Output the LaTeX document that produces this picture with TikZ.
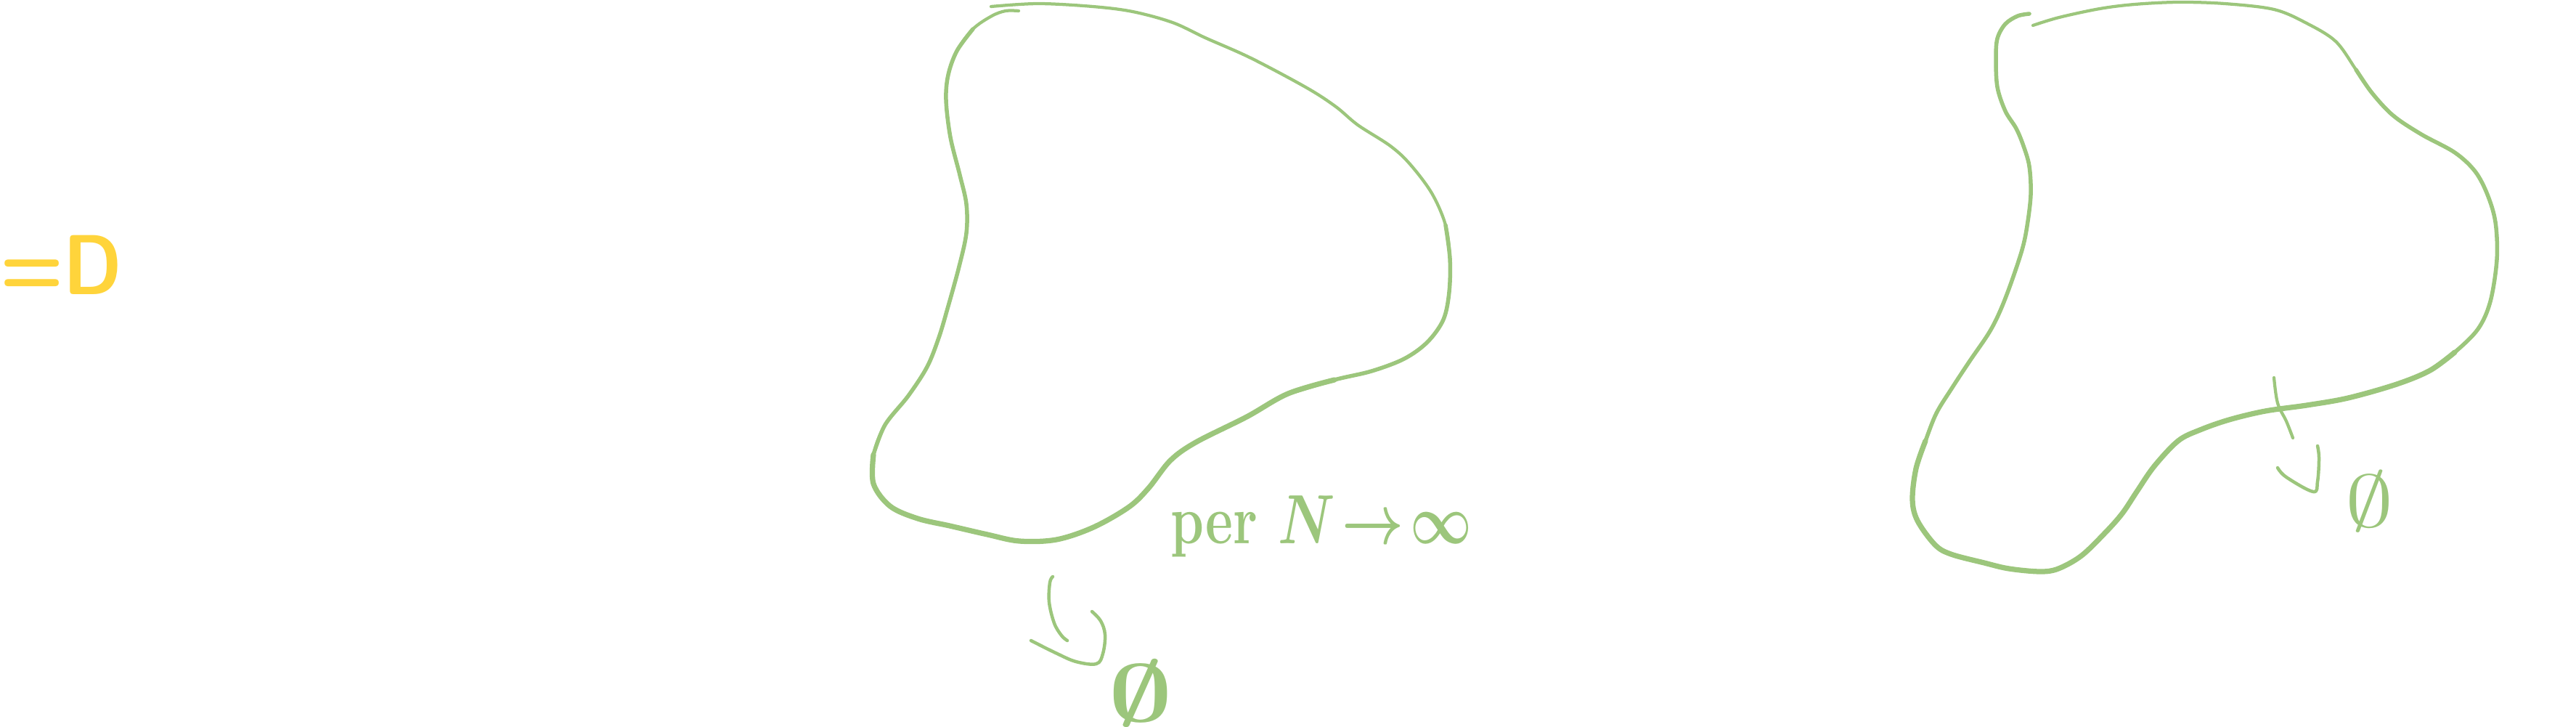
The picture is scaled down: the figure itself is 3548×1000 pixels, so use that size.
\RequirePackage{fix-cm}
\documentclass[tikz,border=0pt]{standalone}
\definecolor{pen}{HTML}{9CC67C}
\definecolor{yel}{HTML}{FFD43B}
\begin{document}
\begin{tikzpicture}[x=0.2mm,y=-0.2mm,
  penbase/.style={draw=pen, line cap=round, line join=round},
  thinpen/.style={penbase, line width=0.85mm},
  midpen/.style={penbase, line width=1.1mm},
  thickpen/.style={penbase, line width=1.45mm},
  annpen/.style={penbase, line width=0.9mm},
  smiletext/.style={text=yel, inner sep=0pt, font=\fontsize{58}{62}\selectfont\sffamily\bfseries},
  handtext/.style={text=pen, inner sep=0pt, font={\fontsize{42}{48}\selectfont\bfseries\mathversion{bold}}},
  nulltext/.style={text=pen, inner sep=0pt, font={\fontsize{64}{70}\selectfont\mathversion{bold}}}]
\useasboundingbox (0,0) rectangle (3548,1000);

% yellow emoticon
\node[smiletext, anchor=base west, yscale=1.15] (smile) at (0,405) {=D};

% left blob
\draw[thinpen] plot[smooth, tension=0.55] coordinates {(1365,9) (1430,5) (1505,9) (1560,16) (1615,31) (1660,52) (1723,80) (1800,121) (1840,147) (1870,172) (1915,201) (1942,226) (1972,266) (1991,310) (1997,356) (1996,402) (1988,440) (1966,471) (1934,494) (1889,511) (1838,523) (1774,542) (1717,574) (1647,609) (1612,634) (1582,672) (1555,698) (1506,726) (1455,743) (1404,745) (1360,736) (1308,724) (1264,714) (1226,697) (1203,666) (1203,626) (1219,585) (1251,545) (1277,505) (1293,465) (1305,425) (1321,367) (1331,321) (1331,281) (1322,241) (1309,189) (1303,138) (1306,103) (1318,70) (1340,40) (1366,22) (1385,15) (1403,15)};
\draw[midpen] plot[smooth, tension=0.55] coordinates {(1991,310) (1997,356) (1996,402) (1988,440) (1966,471) (1934,494) (1889,511) (1838,523) (1774,542)};
\draw[thickpen] plot[smooth, tension=0.55] coordinates {(1838,523) (1774,542) (1717,574) (1647,609) (1612,634) (1582,672) (1555,698) (1506,726) (1455,743) (1404,745) (1360,736) (1308,724) (1264,714) (1226,697) (1203,666) (1203,626)};
\draw[midpen] plot[smooth, tension=0.55] coordinates {(1203,626) (1219,585) (1251,545) (1277,505) (1293,465) (1305,425) (1321,367) (1331,321) (1331,281) (1322,241) (1309,189) (1303,138) (1306,103) (1318,70) (1340,40)};

% right blob
\draw[thinpen] plot[smooth, tension=0.55] coordinates {(2795,19) (2779,22) (2762,33) (2751,53) (2749,81) (2751,120) (2762,153) (2777,177) (2787,201) (2795,229) (2797,268) (2792,311) (2785,344) (2769,392) (2754,430) (2739,459) (2713,497) (2688,535) (2667,569) (2652,607) (2639,645) (2634,688) (2641,717) (2665,750) (2687,763) (2733,775) (2767,783) (2810,787) (2835,783) (2867,765) (2900,733) (2923,707) (2943,677) (2967,642) (3000,607) (3030,592) (3070,578) (3120,566) (3177,558) (3234,548) (3301,529) (3347,510) (3381,485) (3413,453) (3430,415) (3439,357) (3437,306) (3426,268) (3409,236) (3381,210) (3335,185) (3296,159) (3267,128) (3245,96) (3217,57) (3177,32) (3132,13) (3064,5) (3000,3) (2940,6) (2892,12) (2836,24) (2800,35)};
\draw[midpen] plot[smooth, tension=0.55] coordinates {(2795,19) (2779,22) (2762,33) (2751,53) (2749,81) (2751,120) (2762,153) (2777,177) (2787,201) (2795,229) (2797,268) (2792,311) (2785,344) (2769,392) (2754,430) (2739,459) (2713,497) (2688,535) (2667,569) (2652,607) (2639,645)};
\draw[thickpen] plot[smooth, tension=0.55] coordinates {(2652,607) (2639,645) (2634,688) (2641,717) (2665,750) (2687,763) (2733,775) (2767,783) (2810,787) (2835,783) (2867,765) (2900,733) (2923,707) (2943,677) (2967,642) (3000,607) (3030,592) (3070,578) (3120,566) (3177,558) (3234,548) (3301,529) (3347,510) (3381,485)};
\draw[midpen] plot[smooth, tension=0.55] coordinates {(3347,510) (3381,485) (3413,453) (3430,415) (3439,357) (3437,306) (3426,268) (3409,236) (3381,210) (3335,185) (3296,159) (3267,128) (3245,96)};

% label
\node[handtext, anchor=base west, yscale=1.3] (limit) at (1612,748) {per $N\!\to\!\infty$};

% left arrow to empty set
\draw[annpen] plot[smooth, tension=0.6] coordinates {(1450,794) (1446,802) (1445,829) (1452,858) (1462,875) (1470,882)};
\draw[annpen] plot[smooth, tension=0.6] coordinates {(1420,882) (1454,899) (1482,911) (1510,914) (1519,900) (1522,874) (1516,855) (1504,842)};
\node[nulltext, xscale=1.35] (nullL) at (1571,954) {$\emptyset$};

% right arrow to empty set
\draw[thinpen] plot[smooth, tension=0.6] coordinates {(3132,520) (3137,555) (3149,580) (3158,603)};
\draw[annpen] plot[smooth, tension=0.6] coordinates {(3137,644) (3149,657) (3186,677) (3192,663) (3194,631) (3192,614)};
\node[nulltext, xscale=1.3, font={\fontsize{58}{64}\selectfont}] (nullR) at (3264,690) {$\emptyset$};
\end{tikzpicture}
\end{document}
